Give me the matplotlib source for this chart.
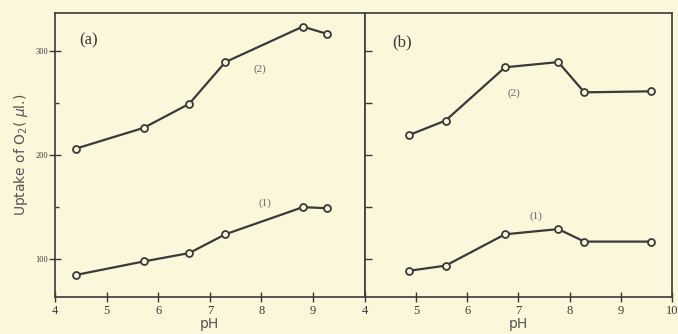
import matplotlib
matplotlib.use('Agg')
import matplotlib.pyplot as plt

# panel (a)
ph_a = [4.4, 5.72, 6.6, 7.3, 8.8, 9.27]
a_curve1 = [85, 98, 106, 124, 150, 149]
a_curve2 = [206, 226, 249, 289, 323, 316]

# panel (b)
ph_b = [4.86, 5.58, 6.74, 7.78, 8.29, 9.6]
b_curve1 = [89, 94, 124, 129, 117, 117]
b_curve2 = [219, 233, 284, 289, 260, 261]

bg = '#fbf7da'
ink = '#3a3a3a'

fig = plt.figure(figsize=(6.78, 3.34), dpi=100, facecolor=bg)
ax1 = fig.add_axes([0.081, 0.111, 0.457, 0.85])
ax2 = fig.add_axes([0.538, 0.111, 0.453, 0.85])

serif = 'Liberation Serif'
for ax, xs, c1, c2 in [(ax1, ph_a, a_curve1, a_curve2), (ax2, ph_b, b_curve1, b_curve2)]:
    ax.set_facecolor(bg)
    for ys in (c1, c2):
        ax.plot(xs, ys, '-o', color=ink, lw=1.6, ms=5, mfc=bg, mec=ink, mew=1.3)
    ax.set_xlim(4, 10)
    ax.set_ylim(64, 336)
    for s in ax.spines.values():
        s.set_color(ink)
        s.set_linewidth(1.2)
    ax.tick_params(axis='x', direction='inout', length=7, width=1, colors=ink,
                   labelsize=9, pad=2)
    ax.set_xlabel('pH', fontsize=10, color='#555555', labelpad=0)
    for lab in ax.get_xticklabels():
        lab.set_fontfamily(serif)

ax1.set_xticks([4, 5, 6, 7, 8, 9])
ax2.set_xticks([4, 5, 6, 7, 8, 9, 10])
ax1.set_yticks([100, 200, 300])
ax1.set_yticks([150, 250], minor=True)
ax1.tick_params(axis='y', which='major', direction='inout', length=8, width=1,
                colors=ink, labelsize=6, pad=1)
ax1.tick_params(axis='y', which='minor', direction='in', length=3, width=1, colors=ink)
for lab in ax1.get_yticklabels():
    lab.set_fontfamily(serif)
ax1.set_ylabel('Uptake of O$_2$( $\\mu$l.)', fontsize=10, color='#555555', labelpad=4)

ax2.set_yticks([100, 150, 200, 250, 300])
ax2.tick_params(axis='y', direction='in', length=5, width=1, colors=ink, labelleft=False)

ax1.text(4.66, 310, '(a)', fontsize=12, family=serif, color=ink, ha='center', va='center')
ax2.text(4.72, 308, '(b)', fontsize=12, family=serif, color=ink, ha='center', va='center')
ax1.text(7.97, 282, '(2)', fontsize=8, family=serif, color='#666666', ha='center', va='center')
ax1.text(8.07, 154, '(1)', fontsize=8, family=serif, color='#666666', ha='center', va='center')
ax2.text(6.92, 259, '(2)', fontsize=8, family=serif, color='#666666', ha='center', va='center')
ax2.text(7.35, 141, '(1)', fontsize=8, family=serif, color='#666666', ha='center', va='center')

fig.savefig('out.png', dpi=100, facecolor=bg)
